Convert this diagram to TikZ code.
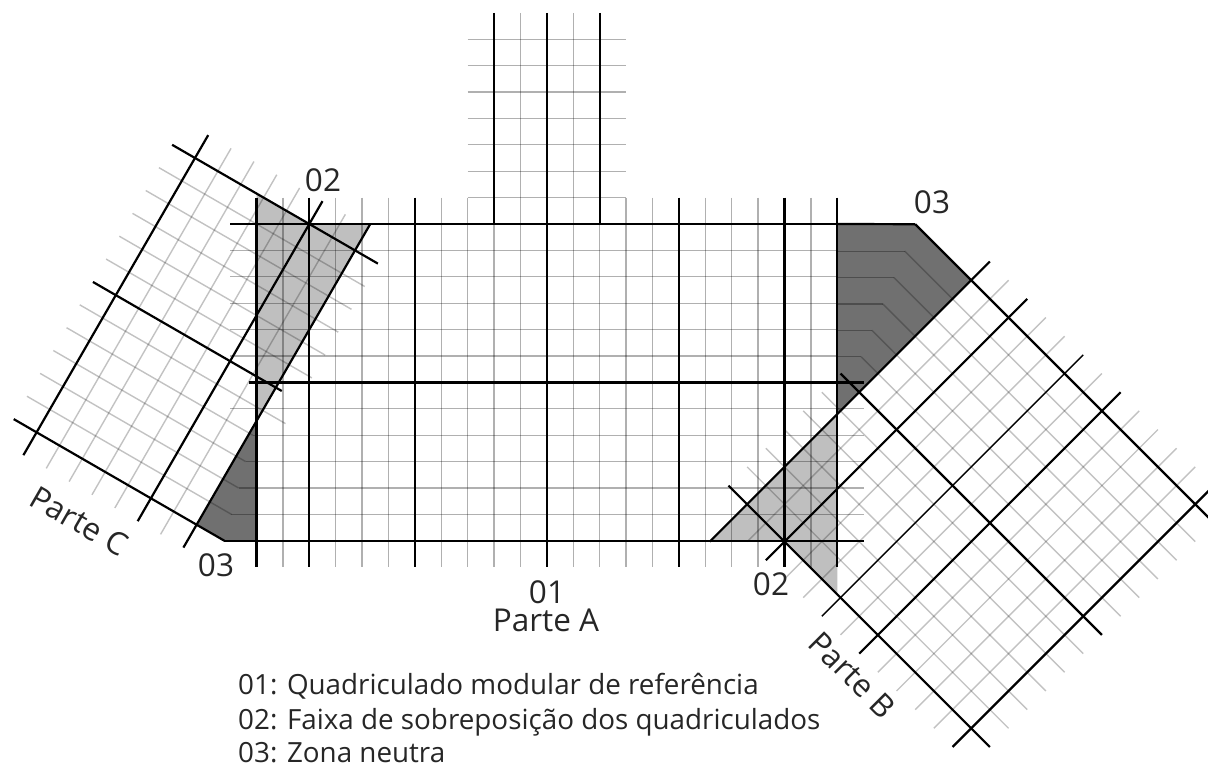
\documentclass[tikz,border=0pt]{standalone}
\usepackage{fontspec}
\setmainfont{Open Sans}
\usepackage{tikz}

\tikzset{
  fineline/.style={draw=black, draw opacity=0.31, line width=1.3pt},
  tiltline/.style={draw=black, draw opacity=0.24, line width=1.4pt},
  boldline/.style={draw=black, line width=2.2pt},
  overlapzone/.style={fill=black!25},
  neutralzone/.style={fill=black!56},
  plabel/.style={font=\fontsize{31.5}{33}\selectfont, text=black!85, inner sep=0pt},
  legend/.style={font=\fontsize{27.8}{29}\selectfont, text=black!85, inner sep=0pt, anchor=base west},
  gridA/.style={shift={(256.5pt,-224pt)}, x=26.4pt, y=-26.4pt},
  gridB/.style={shift={(784.5pt,-541.6pt)}, x={(18.67pt,-18.67pt)}, y={(18.67pt,18.67pt)}},
  gridC/.style={shift={(309.3pt,-224pt)}, x={(-22.86pt,13.2pt)}, y={(-13.2pt,-22.86pt)}},
}

\begin{document}
\begin{tikzpicture}[x=1pt, y=-1pt]
  \useasboundingbox (0,0) rectangle (1208,765);
  \clip (0,0) rectangle (1208,765);

  % zones
  \begin{scope}[gridA]
    \coordinate (ledge) at (0,0);
    \coordinate (redge) at (22,0);
  \end{scope}
  \begin{scope}[gridC]
    \coordinate (cornerC) at (-3.216,12);
    \coordinate (midC) at (-2,12);
    \coordinate (endC) at (-2,-1.155);
    \foreach \k in {8,...,11}
      \coordinate (bendC\k) at ({-0.268*\k},\k);
  \end{scope}
  \begin{scope}[gridB]
    \coordinate (originB) at (0,0);
    \coordinate (midB) at (-2,12);
    \coordinate (cornerB) at (-5,12);
    \foreach \k in {7,...,11}
      \coordinate (bendB\k) at ({-0.4142*\k},\k);
  \end{scope}
  \fill[overlapzone] (256.5,193.6) -- (309.3,224) -- (endC) -- (256.5,421.5) -- cycle;
  \fill[neutralzone] (256.5,421.5) -- (midC) -- (cornerC) -- (256.5,541.6) -- cycle;
  \fill[overlapzone] (837.3,414.2) -- (709.9,541.6) -- (originB) -- (837.3,594.4) -- cycle;
  \fill[neutralzone] (redge) -- (cornerB) -- (midB) -- (837.3,414.2) -- cycle;

  % part A, fine lines
  \begin{scope}[gridA]
    \foreach \n in {1,3,4,5,7,8,9,10,12,13,14,15,17,18,19,21}
      \draw[fineline] (\n,-1) -- (\n,13);
    \foreach \n in {1,2,3,4,5}
      \draw[fineline] (-1,\n) -- (22,\n);
    \draw[fineline] (-1,7) -- (23,7);
    \foreach \n in {8,...,11}
      \draw[fineline] (0,\n) -- (23,\n);
    % upper strip
    \foreach \n in {10,12}
      \draw[fineline] (\n,-8) -- (\n,-1);
    \foreach \n in {-7,...,-1}
      \draw[fineline] (8,\n) -- (14,\n);
  \end{scope}

  % part C, fine lines
  \begin{scope}[gridC]
    \foreach \n in {-1,1,2,3,4}
      \draw[tiltline] (\n,-1) -- (\n,13);
    \foreach \n in {1,...,5,7}
      \draw[tiltline] (-3,\n) -- (6,\n);
    \foreach \n in {8,...,11}
      \draw[tiltline] (bendC\n) -- (6,\n);
  \end{scope}

  % part B, fine lines
  \begin{scope}[gridB]
    \foreach \n in {-1,1,2,4,6,7,8,9}
      \draw[tiltline] (\n,-1) -- (\n,13);
    \foreach \n in {1,...,5}
      \draw[tiltline] (-3,\n) -- (11,\n);
    \foreach \n in {7,...,11}
      \draw[tiltline] (bendB\n) -- (11,\n);
  \end{scope}

  % bends in the neutral zones
  \foreach \n in {8,...,11}
    \draw[fineline] (bendC\n) -- (bendC\n -| ledge);
  \foreach \n in {7,...,11}
    \draw[fineline] (bendB\n) -- (bendB\n -| redge);

  % bold lines
  \begin{scope}[gridA]
    \foreach \n in {0,2,6,16,20,22}
      \draw[boldline] (\n,-1) -- (\n,13);
    \draw[boldline] (11,-8) -- (11,13);
    \foreach \n in {9,13}
      \draw[boldline] (\n,-8) -- (\n,0);
    \draw[boldline] (-1,0) -- (22,0);
    \draw[boldline] (-0.3,6) -- (23,6);
    \draw[boldline] (23,12) -- (0,12);
  \end{scope}
  \draw[boldline] (cornerC) -- (ledge |- cornerC);
  \draw[boldline] (cornerB) -- (redge);
  \begin{scope}[gridC]
    \foreach \n in {0,5}
      \draw[boldline] (\n,-1) -- (\n,13);
    \draw[boldline] (-2,13) -- (endC);
    \draw[boldline] (-3,0) -- (6,0);
    \draw[boldline] (-2.26,6) -- (6,6);
    \draw[boldline] (cornerC) -- (6,12);
  \end{scope}
  \begin{scope}[gridB]
    \foreach \n in {0,5,10}
      \draw[boldline] (\n,-1) -- (\n,13);
    \draw[boldline] (-2,-2) -- (-2,13);
    \draw[boldline, line width=1.4pt] (3,-1) -- (3,13);
    \draw[boldline] (-3,0) -- (11,0);
    \draw[boldline] (-3,6) -- (11,6);
    \draw[boldline] (cornerB) -- (11,12);
  \end{scope}

  % labels
  \node[plabel] (lab01) at (547,592) {01};
  \node[plabel] (labA) at (546,620) {Parte A};
  \node[plabel] (lab02c) at (323,180) {02};
  \node[plabel] (lab03b) at (932,202) {03};
  \node[plabel] (lab03c) at (216,565) {03};
  \node[plabel] (lab02b) at (771,584) {02};
  \node[plabel, rotate=-30] (labC) at (79,521) {Parte C};
  \node[plabel, rotate=-45] (labB) at (852,675) {Parte B};
  \node[legend] (leg1) at (238,694) {01: Quadriculado modular de referência};
  \node[legend] (leg2) at (238,729) {02: Faixa de sobreposição dos quadriculados};
  \node[legend] (leg3) at (238,762) {03: Zona neutra};
\end{tikzpicture}
\end{document}
